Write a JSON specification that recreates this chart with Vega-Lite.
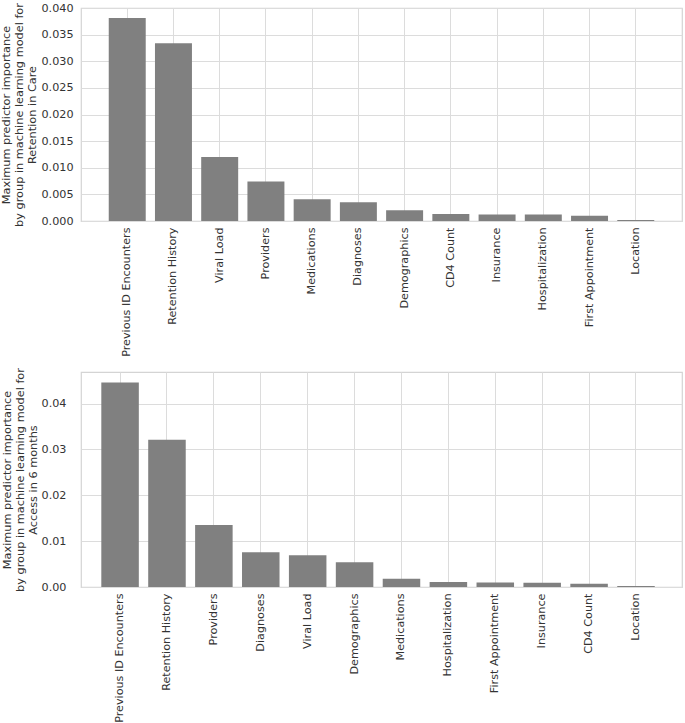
{
  "$schema": "https://vega.github.io/schema/vega-lite/v6.json",
  "padding": {"top": 1, "left": 0, "right": 2, "bottom": 0},
  "background": "white",
  "datasets": {
    "care": [
      {"group": "Previous ID Encounters", "importance": 0.0381},
      {"group": "Retention History", "importance": 0.0334},
      {"group": "Viral Load", "importance": 0.0120},
      {"group": "Providers", "importance": 0.0074},
      {"group": "Medications", "importance": 0.0041},
      {"group": "Diagnoses", "importance": 0.0035},
      {"group": "Demographics", "importance": 0.0020},
      {"group": "CD4 Count", "importance": 0.0013},
      {"group": "Insurance", "importance": 0.0012},
      {"group": "Hospitalization", "importance": 0.0012},
      {"group": "First Appointment", "importance": 0.0010},
      {"group": "Location", "importance": 0.0002}
    ],
    "access": [
      {"group": "Previous ID Encounters", "importance": 0.0446},
      {"group": "Retention History", "importance": 0.0321},
      {"group": "Providers", "importance": 0.0135},
      {"group": "Diagnoses", "importance": 0.0076},
      {"group": "Viral Load", "importance": 0.0069},
      {"group": "Demographics", "importance": 0.0054},
      {"group": "Medications", "importance": 0.0018},
      {"group": "Hospitalization", "importance": 0.0011},
      {"group": "First Appointment", "importance": 0.0010},
      {"group": "Insurance", "importance": 0.0009},
      {"group": "CD4 Count", "importance": 0.0007},
      {"group": "Location", "importance": 0.0002}
    ]
  },
  "config": {
    "font": "DejaVu Sans",
    "view": {"stroke": "#d4d4d4", "strokeWidth": 1.2},
    "axis": {
      "labelFont": "DejaVu Sans",
      "titleFont": "DejaVu Sans",
      "labelFontSize": 11.2,
      "titleFontSize": 11.3,
      "labelColor": "#333333",
      "titleColor": "#333333",
      "titleFontWeight": "normal",
      "domain": false,
      "ticks": false,
      "gridColor": "#dcdcdc",
      "gridWidth": 1,
      "gridOpacity": 1
    },
    "concat": {"spacing": 9}
  },
  "concat": [
    {
      "data": {"name": "care"},
      "width": 601,
      "height": 213,
      "mark": {"type": "bar", "color": "#808080"},
      "encoding": {
        "x": {
          "field": "group",
          "type": "nominal",
          "sort": null,
          "scale": {"paddingInner": 0.2, "paddingOuter": 0.6},
          "axis": {"title": null, "labelAngle": -90, "labelPadding": 6, "grid": true, "bandPosition": 0.5}
        },
        "y": {
          "field": "importance",
          "type": "quantitative",
          "scale": {"domain": [0, 0.04], "nice": false},
          "axis": {
            "title": ["Maximum predictor importance", "by group in machine learning model for", "Retention in Care"],
            "titleLineHeight": 13,
            "titlePadding": 3,
            "values": [0, 0.005, 0.01, 0.015, 0.02, 0.025, 0.03, 0.035, 0.04],
            "format": ".3f",
            "labelPadding": 8,
            "grid": true
          }
        }
      }
    },
    {
      "data": {"name": "access"},
      "width": 601,
      "height": 215,
      "mark": {"type": "bar", "color": "#808080"},
      "encoding": {
        "x": {
          "field": "group",
          "type": "nominal",
          "sort": null,
          "scale": {"paddingInner": 0.2, "paddingOuter": 0.507, "align": 0.427},
          "axis": {"title": null, "labelAngle": -90, "labelPadding": 6, "grid": true, "bandPosition": 0.5}
        },
        "y": {
          "field": "importance",
          "type": "quantitative",
          "scale": {"domain": [0, 0.0469], "nice": false},
          "axis": {
            "title": ["Maximum predictor importance", "by group in machine learning model for", "Access in 6 months"],
            "titleLineHeight": 13,
            "titlePadding": 3,
            "values": [0, 0.01, 0.02, 0.03, 0.04],
            "format": ".2f",
            "labelPadding": 15,
            "grid": true
          }
        }
      }
    }
  ],
  "columns": 1
}
